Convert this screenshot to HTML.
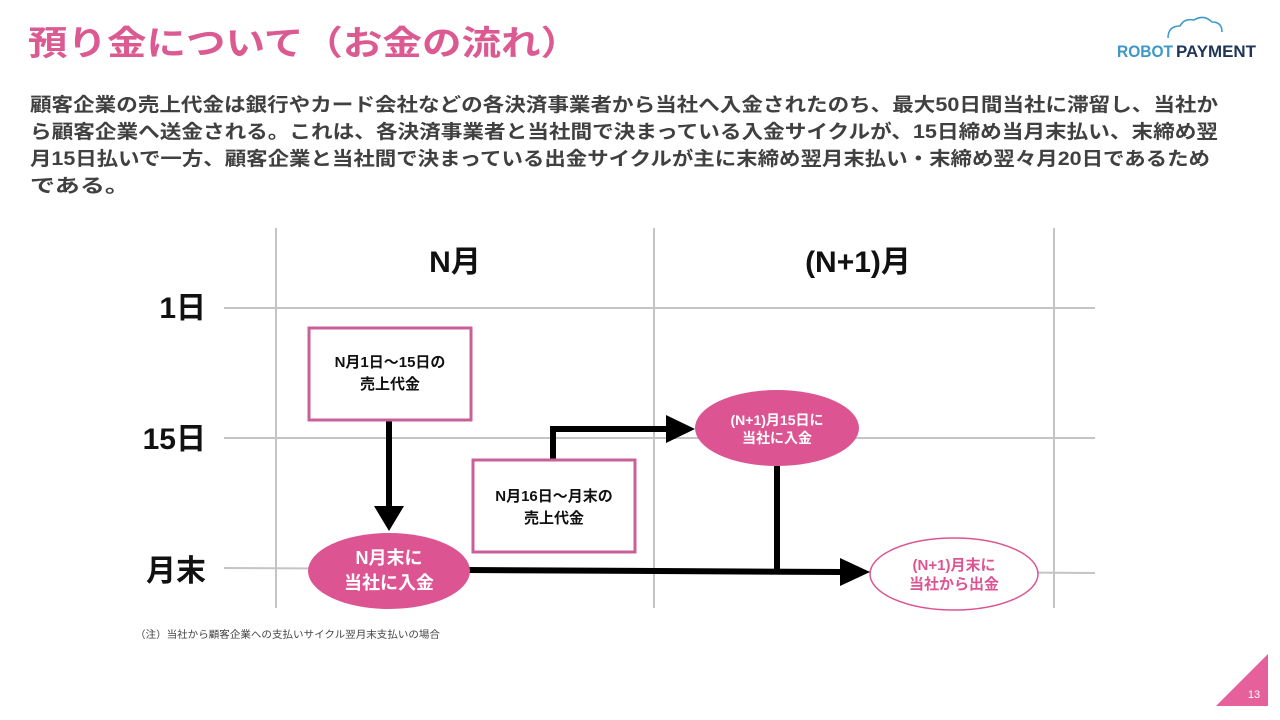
<!DOCTYPE html>
<html><head><meta charset="utf-8"><style>
body{margin:0;background:#fff;}
svg{display:block;font-family:"Liberation Sans","Noto Sans CJK JP",sans-serif;}
</style></head><body>
<svg width="1280" height="720" viewBox="0 0 1280 720" xmlns="http://www.w3.org/2000/svg">
<text x="28" y="55" font-size="34" font-weight="bold" fill="#dc5a92" textLength="552" lengthAdjust="spacingAndGlyphs">預り金について（お金の流れ）</text>
<path d="M1168 38 q0-12 12-12 q4-8 14-6 q10-6 18 2 q10 0 10 10" fill="none" stroke="#3d97c9" stroke-width="1.5"/>
<text x="1117" y="57" font-size="17" font-weight="bold" fill="#3d97c9" textLength="56" lengthAdjust="spacingAndGlyphs">ROBOT</text>
<text x="1176" y="57" font-size="17" font-weight="bold" fill="#1e3557" textLength="80" lengthAdjust="spacingAndGlyphs">PAYMENT</text>
<g font-size="19" font-weight="bold" fill="#404040">
<text x="30" y="111" textLength="1188" lengthAdjust="spacingAndGlyphs">顧客企業の売上代金は銀行やカード会社などの各決済事業者から当社へ入金されたのち、最大50日間当社に滞留し、当社か</text>
<text x="30" y="138" textLength="1188" lengthAdjust="spacingAndGlyphs">ら顧客企業へ送金される。これは、各決済事業者と当社間で決まっている入金サイクルが、15日締め当月末払い、末締め翌</text>
<text x="30" y="165" textLength="1180" lengthAdjust="spacingAndGlyphs">月15日払いで一方、顧客企業と当社間で決まっている出金サイクルが主に末締め翌月末払い・末締め翌々月20日であるため</text>
<text x="30" y="192" textLength="100" lengthAdjust="spacingAndGlyphs">である。</text>
</g>
<g stroke="#c4c4c4" stroke-width="2">
<line x1="276" y1="228" x2="276" y2="608"/>
<line x1="654" y1="228" x2="654" y2="608"/>
<line x1="1054" y1="228" x2="1054" y2="608"/>
<line x1="224" y1="308" x2="1095" y2="308"/>
<line x1="224" y1="438" x2="1095" y2="438"/>
<line x1="224" y1="568" x2="1095" y2="573"/>
</g>
<g font-size="30" font-weight="bold" fill="#111">
<text x="455" y="272" text-anchor="middle">N月</text>
<text x="858" y="272" text-anchor="middle">(N+1)月</text>
<text x="206" y="318" text-anchor="end">1日</text>
<text x="206" y="449" text-anchor="end">15日</text>
<text x="206" y="581" text-anchor="end">月末</text>
</g>
<g stroke="#000" stroke-width="6" fill="none">
<line x1="389" y1="420" x2="389" y2="510"/>
<polyline points="553,460 553,429 670,429"/>
<line x1="777" y1="466" x2="777" y2="572"/>
<line x1="469" y1="570" x2="842" y2="572"/>
</g>
<polygon points="374,506 404,506 389,531" fill="#000"/>
<polygon points="666,415 666,443 695,429" fill="#000"/>
<polygon points="840,558 840,586 870,572" fill="#000"/>
<rect x="309" y="328" width="162" height="92" fill="#fff" stroke="#c9609a" stroke-width="3"/>
<rect x="473" y="460" width="162" height="92" fill="#fff" stroke="#c9609a" stroke-width="3"/>
<g font-size="15" font-weight="bold" fill="#111" text-anchor="middle">
<text x="390" y="367">N月1日～15日の</text>
<text x="390" y="389">売上代金</text>
<text x="554" y="501">N月16日～月末の</text>
<text x="554" y="523">売上代金</text>
</g>
<ellipse cx="389" cy="571" rx="81" ry="38" fill="#dc5592"/>
<ellipse cx="777" cy="428" rx="82" ry="38" fill="#dc5592"/>
<ellipse cx="954" cy="574" rx="84" ry="36" fill="#fff" stroke="#dc5592" stroke-width="1.5"/>
<g font-weight="bold" text-anchor="middle">
<text x="389" y="564" font-size="18" fill="#fff">N月末に</text>
<text x="389" y="589" font-size="18" fill="#fff">当社に入金</text>
<text x="777" y="425" font-size="14" fill="#fff">(N+1)月15日に</text>
<text x="777" y="443" font-size="14" fill="#fff">当社に入金</text>
<text x="954" y="570" font-size="15" fill="#dc5592">(N+1)月末に</text>
<text x="954" y="589" font-size="15" fill="#dc5592">当社から出金</text>
</g>
<text x="135" y="638" font-size="10" fill="#444" textLength="305" lengthAdjust="spacingAndGlyphs">（注）当社から顧客企業への支払いサイクル翌月末支払いの場合</text>
<polygon points="1216,706 1268,654 1268,706" fill="#e6609b"/>
<text x="1254" y="698" font-size="11" fill="#fff" text-anchor="middle">13</text>
</svg>
</body></html>
